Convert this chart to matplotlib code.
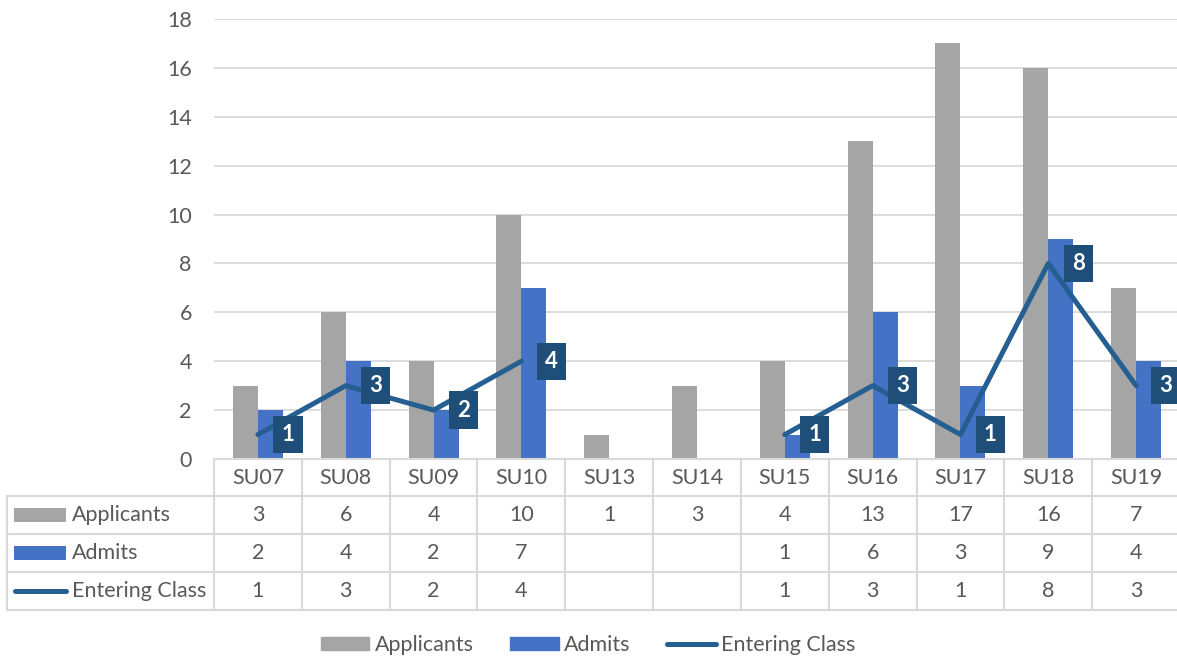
"""Applicants, admits and entering class by summer cohort, with data table."""

import matplotlib.pyplot as plt
import numpy as np
from matplotlib.lines import Line2D
from matplotlib.patches import Rectangle
from matplotlib.transforms import blended_transform_factory

cohorts = ["SU07", "SU08", "SU09", "SU10", "SU13", "SU14",
           "SU15", "SU16", "SU17", "SU18", "SU19"]
applicants = [3, 6, 4, 10, 1, 3, 4, 13, 17, 16, 7]
admits = [2, 4, 2, 7, None, None, 1, 6, 3, 9, 4]
entering = [1, 3, 2, 4, None, None, 1, 3, 1, 8, 3]
series_names = ["Applicants", "Admits", "Entering Class"]

GRAY = "#A5A5A5"
BLUE = "#4472C4"
LINE = "#255E91"
LABEL_BOX = "#1F4E79"
TEXT = "#595959"
GRID = "#D9D9D9"
FS = 15.5

plt.rcParams["font.family"] = ["Lato", "DejaVu Sans"]

W, H = 1177, 662
fig = plt.figure(figsize=(W / 100, H / 100), dpi=100)


def fx(px):
    return px / W


def fy(py):
    return 1 - py / H


ax = fig.add_axes([fx(214), fy(459), fx(966), 440 / H])

x = np.arange(len(cohorts))
adm = np.array([np.nan if v is None else v for v in admits], dtype=float)
ent = np.array([np.nan if v is None else v for v in entering], dtype=float)
bw = 0.285

ax.bar(x - bw / 2, applicants, width=bw, color=GRAY, zorder=2)
ax.bar(x + bw / 2, adm, width=bw, color=BLUE, zorder=2)
ax.plot(x, ent, color=LINE, lw=3.6, solid_capstyle="round",
        solid_joinstyle="round", zorder=3)

for xi, v in zip(x, ent):
    if np.isnan(v):
        continue
    ax.annotate(f"{int(v)}", (xi, v), xytext=(30, 0), textcoords="offset pixels",
                ha="center", va="center", color="white", fontsize=16,
                fontweight="bold", zorder=5,
                bbox=dict(boxstyle="square,pad=0.37", fc=LABEL_BOX, ec="none"))

ax.set_xlim(-0.5, len(cohorts) - 0.5)
ax.set_ylim(0, 18)
ax.set_yticks(range(0, 19, 2))
ax.set_xticks([])
ax.tick_params(axis="y", length=0, pad=16, labelsize=FS, labelcolor=TEXT)
ax.yaxis.grid(True, color=GRID, lw=1.3, zorder=0)
ax.set_axisbelow(True)
for side in ["left", "right", "top"]:
    ax.spines[side].set_visible(False)
ax.spines["bottom"].set_color(GRID)
ax.spines["bottom"].set_linewidth(1.5)

# data table under the plot area
tr = blended_transform_factory(ax.transData, fig.transFigure)
rows_y = [459, 496, 534, 572, 610]
line_kw = dict(color=GRID, lw=1.5, clip_on=False)

for py in rows_y[1:]:
    fig.add_artist(Line2D([fx(7), fx(1177)], [fy(py), fy(py)], **line_kw))
for k in range(len(cohorts)):
    fig.add_artist(Line2D([k - 0.5, k - 0.5], [fy(459), fy(610)],
                          transform=tr, **line_kw))
fig.add_artist(Line2D([fx(7), fx(7)], [fy(496), fy(610)], **line_kw))

for xi, name in zip(x, cohorts):
    fig.text(xi, fy(478), name, transform=tr, ha="center", va="center",
             fontsize=FS, color=TEXT)

table_rows = [applicants, admits, entering]
for r, vals in enumerate(table_rows):
    yc = fy((rows_y[r + 1] + rows_y[r + 2]) / 2)
    for xi, v in zip(x, vals):
        if v is None:
            continue
        fig.text(xi, yc, str(v), transform=tr, ha="center", va="center",
                 fontsize=FS, color=TEXT)
    fig.text(fx(72), yc, series_names[r], ha="left", va="center",
             fontsize=FS, color=TEXT)

# legend keys inside the table
for r, col in enumerate([GRAY, BLUE]):
    yc = (rows_y[r + 1] + rows_y[r + 2]) / 2
    fig.add_artist(Rectangle((fx(14), fy(yc + 7)), fx(52), 14 / H,
                             color=col, lw=0))
yc = (rows_y[3] + rows_y[4]) / 2
fig.add_artist(Line2D([fx(15), fx(66)], [fy(yc), fy(yc)], color=LINE, lw=3.6,
                      solid_capstyle="round"))

handles = [Rectangle((0, 0), 1, 1, color=GRAY),
           Rectangle((0, 0), 1, 1, color=BLUE),
           Line2D([], [], color=LINE, lw=3.6, solid_capstyle="round")]
fig.legend(handles, series_names, loc="center", bbox_to_anchor=(fx(588), fy(645)),
           ncol=3, frameon=False, fontsize=FS, labelcolor=TEXT,
           handlelength=2.25, handleheight=0.6, handletextpad=0.25,
           columnspacing=1.7)

fig.savefig("out.png", dpi=100)
